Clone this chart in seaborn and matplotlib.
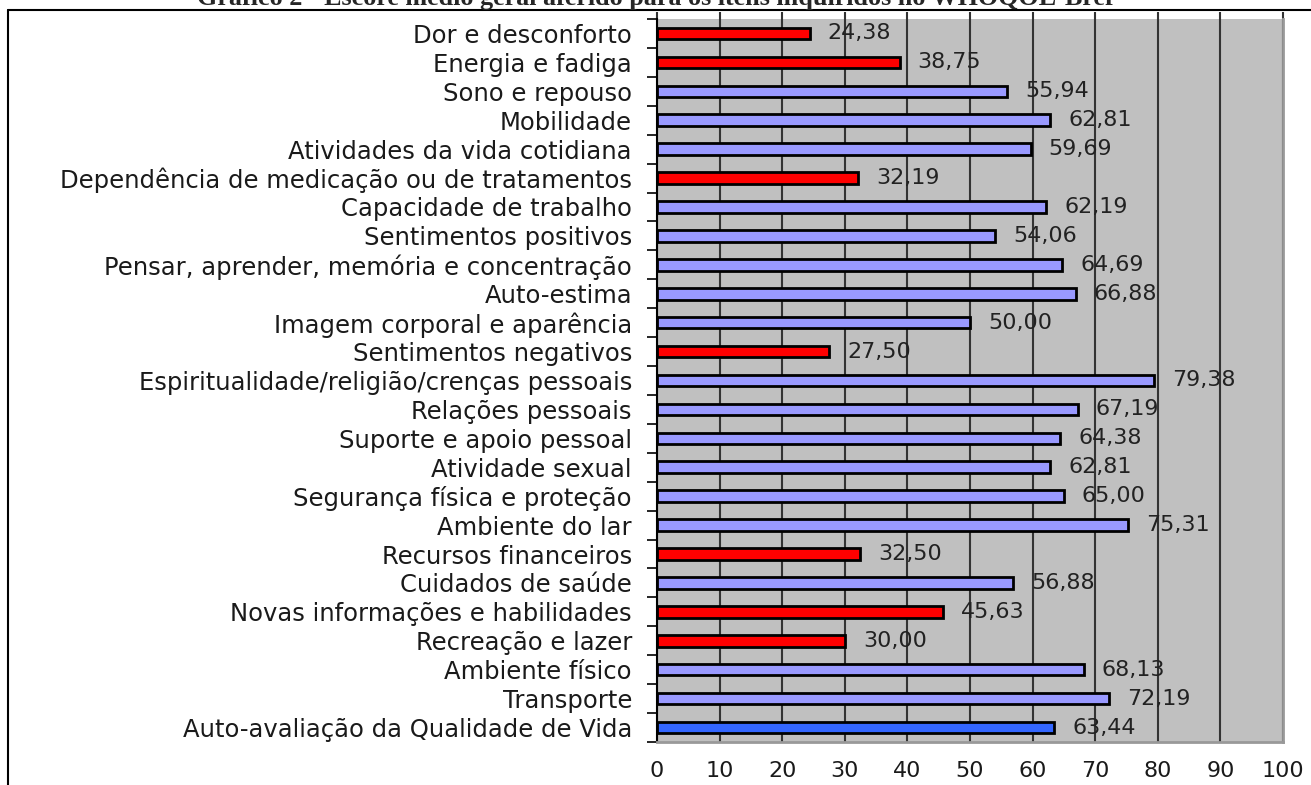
import matplotlib
matplotlib.use('Agg')
import matplotlib.pyplot as plt
import seaborn as sns
import pandas as pd
from matplotlib.lines import Line2D

categories = [
    'Dor e desconforto', 'Energia e fadiga', 'Sono e repouso', 'Mobilidade',
    'Atividades da vida cotidiana', 'Dependência de medicação ou de tratamentos',
    'Capacidade de trabalho', 'Sentimentos positivos',
    'Pensar, aprender, memória e concentração', 'Auto-estima',
    'Imagem corporal e aparência', 'Sentimentos negativos',
    'Espiritualidade/religião/crenças pessoais', 'Relações pessoais',
    'Suporte e apoio pessoal', 'Atividade sexual', 'Segurança física e proteção',
    'Ambiente do lar', 'Recursos financeiros', 'Cuidados de saúde',
    'Novas informações e habilidades', 'Recreação e lazer', 'Ambiente físico',
    'Transporte', 'Auto-avaliação da Qualidade de Vida',
]
scores = [24.38, 38.75, 55.94, 62.81, 59.69, 32.19, 62.19, 54.06, 64.69, 66.88,
          50.00, 27.50, 79.38, 67.19, 64.38, 62.81, 65.00, 75.31, 32.50, 56.88,
          45.63, 30.00, 68.13, 72.19, 63.44]
# 'low' = red, 'ok' = light blue, 'self' = overall self-evaluation
groups = ['low', 'low', 'ok', 'ok', 'ok', 'low', 'ok', 'ok', 'ok', 'ok',
          'ok', 'low', 'ok', 'ok', 'ok', 'ok', 'ok', 'ok', 'low', 'ok',
          'low', 'low', 'ok', 'ok', 'self']
group_colors = {'low': '#FF0000', 'ok': '#9999FF', 'self': '#3366FF'}
title = 'Gráfico 2 - Escore médio geral aferido para os itens inquiridos no WHOQOL-Bref'

df = pd.DataFrame({'item': categories, 'score': scores, 'group': groups})

sns.set_style('white')
plt.rcParams['font.family'] = ['DejaVu Sans']

fig = plt.figure(figsize=(13.11, 7.85), dpi=100)
ax = fig.add_axes([0.5011, 0.0548, 0.4776, 0.921])
ax.set_facecolor('#C0C0C0')

palette = [group_colors[g] for g in groups]
sns.barplot(data=df, x='score', y='item', hue='item', palette=palette,
            saturation=1, legend=False, width=0.4, edgecolor='black',
            linewidth=2, ax=ax, zorder=3)

ax.set_xlim(0, 100)
ax.set_ylim(len(categories) - 0.5, -0.5)
ax.set_xticks(range(0, 101, 10))
ax.set_xlabel('')
ax.set_ylabel('')
ax.grid(axis='x', color='#333333', linewidth=1.5, zorder=1)
ax.set_axisbelow(True)

# category boundary ticks on the left, gridline stubs on top
ax.set_yticks([i - 0.5 for i in range(len(categories) + 1)], minor=True)
ax.tick_params(axis='y', which='major', length=0, labelsize=17.5, pad=18,
               labelcolor='#1a1a1a')
ax.tick_params(axis='y', which='minor', length=7, width=1.2, color='black',
               direction='out', left=True)
ax.tick_params(axis='x', bottom=False, top=True, labeltop=False, length=5,
               width=1.5, color='#333333', labelsize=16, pad=9,
               labelcolor='#1a1a1a')

for side in ['right', 'bottom', 'top']:
    ax.spines[side].set_color('#999999')
    ax.spines[side].set_linewidth(2)
ax.spines['top'].set_visible(False)
ax.spines['left'].set_color('black')
ax.spines['left'].set_linewidth(1.5)

for i, v in enumerate(scores):
    ax.annotate(f'{v:.2f}'.replace('.', ','), (v, i), xytext=(13, 0),
                textcoords='offset points', va='center', ha='left',
                fontsize=16, color='#222222', zorder=5)

fig.text(0.5, 1 - 5 / 785, title, ha='center', va='baseline',
         fontsize=18.8, fontweight='bold', family='Liberation Serif')

# page frame lines
fig.add_artist(Line2D([8 / 1311, 1], [1 - 10 / 785, 1 - 10 / 785],
                      color='black', linewidth=1.5, transform=fig.transFigure))
fig.add_artist(Line2D([8 / 1311, 8 / 1311], [0, 1 - 10 / 785],
                      color='black', linewidth=1.5, transform=fig.transFigure))

fig.savefig('out.png', dpi=100)
